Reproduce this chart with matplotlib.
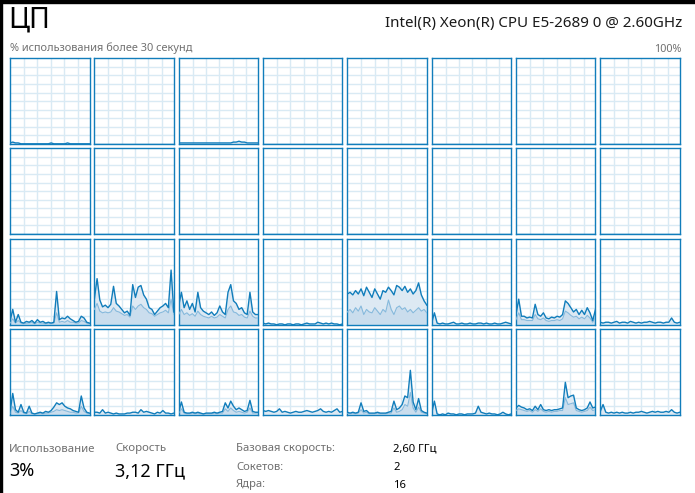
import matplotlib.pyplot as plt
from matplotlib.patches import Rectangle
import numpy as np

# per-logical-processor CPU usage, % (30 samples over 30 s), 4 rows x 8 cols
total_usage = [
    # row 1
    [1,2,1,1,0,0,0,0,0,0,0,0,0,0,0,1,0,0,0,0,0,1,0,0,0,0,0,0,0,0],
    [0,0,0,0,0,0,0,0,0,0,0,0,0,0,0,0,0,0,0,0,0,0,0,0,0,0,0,0,0,0],
    [1,1,1,1,1,1,1,1,1,1,1,1,1,1,1,1,1,1,1,1,2,2,3,2,2,1,1,1,1,1],
    [0,0,0,0,0,0,0,0,0,0,0,0,0,0,0,0,0,0,0,0,0,0,0,0,0,0,0,0,0,0],
    [0,0,0,0,0,0,0,0,0,0,0,0,0,0,0,0,0,0,0,0,0,0,0,0,0,0,0,0,0,0],
    [0,0,0,0,0,0,0,0,0,0,0,0,0,0,0,0,0,0,0,0,0,0,0,0,0,0,0,0,0,0],
    [0,0,0,0,0,0,0,0,0,0,0,0,0,0,0,0,0,0,0,0,0,0,0,0,0,0,0,0,0,0],
    [0,0,0,0,0,0,0,0,0,0,0,0,0,0,0,0,0,0,0,0,0,0,0,0,0,0,0,0,0,0],
    # row 2
    [0,0,0,0,0,0,0,0,0,0,0,0,0,0,0,0,0,0,0,0,0,0,0,0,0,0,0,0,0,0],
    [0,0,0,0,0,0,0,0,0,0,0,0,0,0,0,0,0,0,0,0,0,0,0,0,0,0,0,0,0,0],
    [0,0,0,0,0,0,0,0,0,0,0,0,0,0,0,0,0,0,0,0,0,0,0,0,0,0,0,0,0,0],
    [0,0,0,0,0,0,0,0,0,0,0,0,0,0,0,0,0,0,0,0,0,0,0,0,0,0,0,0,0,0],
    [0,0,0,0,0,0,0,0,0,0,0,0,0,0,0,0,0,0,0,0,0,0,0,0,0,0,0,0,0,0],
    [0,0,0,0,0,0,0,0,0,0,0,0,0,0,0,0,0,0,0,0,0,0,0,0,0,0,0,0,0,0],
    [0,0,0,0,0,0,0,0,0,0,0,0,0,0,0,0,0,0,0,0,0,0,0,0,0,0,0,0,0,0],
    [0,0,0,0,0,0,0,0,0,0,0,0,0,0,0,0,0,0,0,0,0,0,0,0,0,0,0,0,0,0],
    # row 3
    [4,18,3,12,3,2,4,3,5,2,6,3,4,2,3,2,3,39,6,8,7,10,7,5,3,4,10,8,3,2],
    [30,54,29,21,23,20,24,45,25,22,18,14,16,11,47,32,44,46,35,30,20,18,12,16,20,22,25,20,64,15],
    [22,38,20,28,18,25,15,38,20,16,14,12,15,11,14,22,15,12,38,47,28,25,18,20,14,12,38,15,12,12],
    [2,1,2,1,1,0,1,1,0,1,1,0,1,1,0,1,2,1,1,1,3,2,1,2,1,2,1,1,0,1],
    [36,38,35,40,36,42,34,44,38,32,42,36,30,40,38,44,40,35,46,44,40,45,38,42,36,40,49,35,28,23],
    [2,14,2,1,2,1,1,2,3,1,1,2,1,1,2,1,1,2,2,1,2,1,1,2,1,1,2,3,2,1],
    [12,30,10,10,8,9,8,24,12,10,14,8,7,9,8,10,9,12,28,25,20,15,18,12,17,12,20,14,5,18],
    [3,2,3,3,2,3,4,2,3,3,2,4,3,2,3,2,3,3,4,3,2,3,3,2,3,3,8,3,2,3],
    # row 4
    [3,25,6,3,12,3,2,10,2,1,2,3,2,4,3,5,9,14,12,14,10,8,7,5,4,3,22,8,3,2],
    [3,3,2,6,2,3,2,1,2,1,1,1,2,2,3,3,2,6,3,4,3,2,1,3,2,5,2,2,1,2],
    [3,15,3,2,2,3,2,3,2,1,2,2,2,3,2,3,4,14,8,16,10,6,8,6,4,5,17,4,3,3],
    [5,4,5,4,3,4,7,3,4,3,2,3,4,3,3,4,5,4,3,4,5,7,4,3,4,3,5,7,3,4],
    [3,2,3,2,3,14,4,5,2,2,2,3,2,2,2,3,4,16,6,8,12,22,20,52,15,6,19,5,3,2],
    [2,16,1,0,1,0,2,1,1,0,1,1,0,1,1,1,2,10,3,2,1,2,1,1,0,1,3,1,0,1],
    [8,11,9,8,6,7,5,10,6,12,6,5,6,5,6,6,7,8,38,20,22,23,8,6,5,6,8,15,8,9],
    [4,12,3,2,3,2,3,2,3,2,2,3,2,3,3,4,3,2,3,4,3,4,3,3,4,3,6,3,2,3],
]

# kernel time, % (only where it is visible)
kernel_usage = {
    16: [2,7,2,5,2,1,2,2,3,1,3,2,2,1,2,1,2,14,3,4,3,5,3,3,2,2,5,4,2,1],
    17: [18,25,16,14,15,14,15,20,16,15,13,11,12,9,22,18,22,24,20,18,14,13,10,12,14,15,17,14,30,12],
    18: [12,18,12,14,11,13,10,16,12,10,9,8,10,8,9,12,10,8,18,22,15,14,11,12,9,8,16,10,8,8],
    20: [15,18,14,20,16,22,12,18,15,14,20,16,12,18,15,29,18,12,20,22,18,20,15,18,14,17,20,16,18,14],
    22: [6,14,6,6,5,5,5,12,7,6,8,5,4,5,5,6,5,7,16,14,11,9,10,7,9,7,11,8,3,9],
    24: [2,10,3,2,5,2,1,4,1,1,1,2,1,2,2,3,4,6,5,6,5,4,3,3,2,2,10,4,2,1],
    26: [2,7,2,1,1,2,1,2,1,1,1,1,1,2,1,2,2,7,4,8,5,3,4,3,2,3,8,2,2,2],
    28: [2,1,2,1,2,6,2,3,1,1,1,2,1,1,1,2,2,8,3,4,6,12,10,26,8,3,9,3,2,1],
    30: [5,7,6,5,4,5,3,6,4,7,4,3,4,3,4,4,5,5,20,12,13,14,5,4,3,4,5,9,5,6],
}

cpu_name = 'Intel(R) Xeon(R) CPU E5-2689 0 @ 2.60GHz'
stats_left = [('Использование', '3%'), ('Скорость', '3,12 ГГц')]
stats_right = [('Базовая скорость:', '2,60 ГГц'), ('Сокетов:', '2'), ('Ядра:', '16')]

BLUE = '#117dbb'
GRID = '#d9eaf4'
W, H = 695, 493

plt.rcParams['font.family'] = ['Noto Sans', 'DejaVu Sans']
fig = plt.figure(figsize=(W / 100, H / 100), dpi=100)
fig.patch.set_facecolor('white')

# window edge
fig.add_artist(Rectangle((0, 1 - 3 / H), 1, 3 / H, transform=fig.transFigure, color='black'))
fig.add_artist(Rectangle((0, 0), 2 / W, 1, transform=fig.transFigure, color='black'))

x = np.arange(30)
col_left = [10 + 84.33 * c for c in range(8)]
row_top = [58.3, 148.3, 239.3, 329.3]
pw, ph = 79.5, 85.5
vgrid = [0.176, 0.343, 0.51, 0.68, 0.85]

for i, vals in enumerate(total_usage):
    r, c = divmod(i, 8)
    ax = fig.add_axes([col_left[c] / W, 1 - (row_top[r] + ph) / H, pw / W, ph / H])
    ax.set_xlim(0, 29)
    ax.set_ylim(0, 100)
    for yy in range(10, 100, 10):
        ax.axhline(yy, color=GRID, lw=1.0, zorder=0)
    for xf in vgrid:
        ax.axvline(xf * 29, color=GRID, lw=1.0, zorder=0)
    ax.fill_between(x, vals, color='#dde9f3', lw=0, zorder=1)
    if i in kernel_usage:
        k = kernel_usage[i]
        ax.fill_between(x, k, color='#cadded', lw=0, zorder=2)
        ax.plot(x, k, color='#86b9dc', lw=0.8, zorder=3)
    ax.plot(x, vals, color=BLUE, lw=1.0, zorder=4)
    ax.set_xticks([])
    ax.set_yticks([])
    for s in ax.spines.values():
        s.set_color(BLUE)
        s.set_linewidth(1.0)

# header texts
fig.text(8 / W, 1 - 20 / H, 'ЦП', fontsize=20.5, fontweight='light', va='center', ha='left', color='black')
fig.text(682 / W, 1 - 24 / H, cpu_name, fontsize=10.9, va='center', ha='right', color='#1a1a1a')
fig.text(10 / W, 1 - 48 / H, '% использования более 30 секунд', fontsize=7.9, va='center', ha='left', color='#707070')
fig.text(681 / W, 1 - 49 / H, '100%', fontsize=7.8, va='center', ha='right', color='#707070')

# footer stats
for (label, value), xp in zip(stats_left, [9, 115]):
    fig.text(xp / W, 1 - 449 / H, label, fontsize=8.2, va='center', ha='left', color='#707070')
    fig.text(xp / W, 1 - 471 / H, value, fontsize=13, va='center', ha='left', color='black')
for (label, value), yp in zip(stats_right, [449, 467, 485]):
    fig.text(236 / W, 1 - yp / H, label, fontsize=8.1, va='center', ha='left', color='#707070')
    fig.text(393 / W, 1 - yp / H, value, fontsize=8.1, va='center', ha='left', color='black')

plt.savefig('out.png', dpi=100, facecolor='white')
